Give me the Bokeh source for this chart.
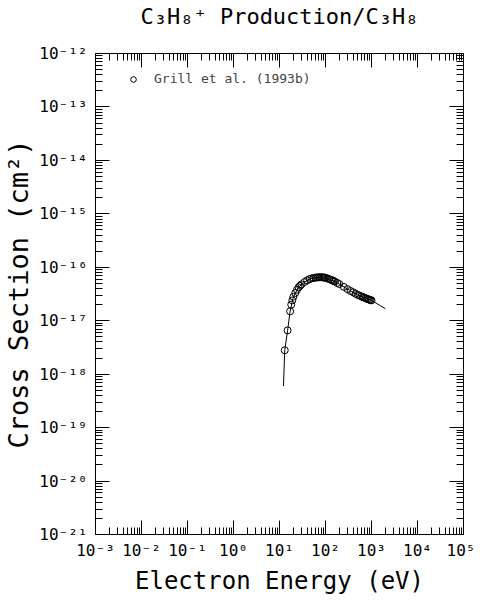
from bokeh.plotting import figure
from bokeh.models import Range1d, FixedTicker, LogAxis, Legend, LegendItem
from bokeh.embed import file_html
from bokeh.resources import INLINE

# ---- data ----
energy_ev = [13, 15, 17, 18, 19, 20, 22, 24, 26, 28, 30, 35, 40, 45, 50, 55, 60, 65, 70, 75,
             80, 85, 90, 95, 100, 110, 120, 130, 140, 150, 160, 180, 200, 250, 300, 350, 400,
             450, 500, 550, 600, 650, 700, 750, 800, 850, 900, 950, 1000]
cross_section = [2.8e-18, 6.6e-18, 1.5e-17, 2.0e-17, 2.4e-17, 2.8e-17, 3.3e-17, 3.8e-17, 4.2e-17,
                 4.5e-17, 4.8e-17, 5.3e-17, 5.7e-17, 6.0e-17, 6.2e-17, 6.3e-17, 6.4e-17, 6.45e-17,
                 6.5e-17, 6.5e-17, 6.5e-17, 6.5e-17, 6.45e-17, 6.4e-17, 6.35e-17, 6.2e-17, 6.0e-17,
                 5.85e-17, 5.7e-17, 5.55e-17, 5.4e-17, 5.1e-17, 4.85e-17, 4.3e-17, 3.9e-17, 3.6e-17,
                 3.4e-17, 3.2e-17, 3.05e-17, 2.95e-17, 2.85e-17, 2.77e-17, 2.7e-17, 2.63e-17,
                 2.57e-17, 2.52e-17, 2.47e-17, 2.43e-17, 2.4e-17]
fit_energy = [12.2, 13, 15, 17, 20, 25, 30, 40, 50, 70, 90, 120, 160, 200, 300, 400, 500, 700,
              1000, 1500, 2000]
fit_sigma = [6.0e-19, 2.8e-18, 6.6e-18, 1.5e-17, 2.8e-17, 4.0e-17, 4.8e-17, 5.7e-17, 6.2e-17,
             6.5e-17, 6.45e-17, 6.0e-17, 5.4e-17, 4.85e-17, 3.9e-17, 3.4e-17, 3.05e-17, 2.7e-17,
             2.4e-17, 1.95e-17, 1.68e-17]

x_ticks = [1e-3, 1e-2, 1e-1, 1e0, 1e1, 1e2, 1e3, 1e4, 1e5]
x_tick_labels = ["10⁻³", "10⁻²", "10⁻¹", "10⁰", "10¹", "10²", "10³", "10⁴", "10⁵"]
y_ticks = [1e-21, 1e-20, 1e-19, 1e-18, 1e-17, 1e-16, 1e-15, 1e-14, 1e-13, 1e-12]
y_tick_labels = ["10⁻²¹", "10⁻²⁰", "10⁻¹⁹", "10⁻¹⁸", "10⁻¹⁷", "10⁻¹⁶", "10⁻¹⁵", "10⁻¹⁴",
                 "10⁻¹³", "10⁻¹²"]

title_text = "C₃H₈⁺ Production/C₃H₈"
x_label = "Electron Energy (eV)"
y_label = "Cross Section (cm²)"
legend_label = "Grill et al. (1993b)"

FONT = "DejaVu Sans Mono"


def minor_of(ticks):
    out = []
    for t in ticks[:-1]:
        out += [t * k for k in range(2, 10)]
    return out


p = figure(width=475, height=598, x_axis_type="log", y_axis_type="log",
           x_range=Range1d(1e-3, 1e5), y_range=Range1d(1e-21, 1e-12),
           output_backend="svg", toolbar_location=None,
           min_border_left=94, min_border_right=12, min_border_top=53, min_border_bottom=64)
p.grid.visible = False
p.outline_line_color = "black"
p.outline_line_width = 1
p.background_fill_color = "white"
p.border_fill_color = "white"

xt = FixedTicker(ticks=x_ticks, minor_ticks=minor_of(x_ticks))
yt = FixedTicker(ticks=y_ticks, minor_ticks=minor_of(y_ticks))


def style_axis(ax, ticker, ticks, labels):
    ax.ticker = ticker
    ax.major_tick_in = 14
    ax.major_tick_out = 0
    ax.minor_tick_in = 7
    ax.minor_tick_out = 0
    ax.axis_line_color = "black"
    ax.major_tick_line_color = "black"
    ax.minor_tick_line_color = "black"
    ax.major_label_overrides = {t: l for t, l in zip(ticks, labels)}
    ax.major_label_text_font = FONT
    ax.major_label_text_font_size = "16px"
    ax.major_label_text_color = "black"
    ax.major_label_standoff = 8


style_axis(p.xaxis[0], xt, x_ticks, x_tick_labels)
style_axis(p.yaxis[0], yt, y_ticks, y_tick_labels)
p.xaxis.major_label_standoff = 6
p.xaxis.axis_label = x_label
p.yaxis.axis_label = y_label
for ax in (p.xaxis[0], p.yaxis[0]):
    ax.axis_label_text_font = FONT
    ax.axis_label_text_font_style = "normal"
    ax.axis_label_text_color = "black"
p.xaxis.axis_label_text_font_size = "24px"
p.yaxis.axis_label_text_font_size = "27px"
p.xaxis.axis_label_standoff = 4
p.yaxis.axis_label_standoff = 2

# top axis: mirrored ticks, carries the chart title as its label
ax_top = LogAxis()
style_axis(ax_top, xt, x_ticks, [""] * len(x_ticks))
ax_top.major_label_standoff = 0
ax_top.axis_label = title_text
ax_top.axis_label_text_font = FONT
ax_top.axis_label_text_font_size = "22px"
ax_top.axis_label_text_font_style = "normal"
ax_top.axis_label_text_color = "black"
ax_top.axis_label_standoff = 25
p.add_layout(ax_top, "above")

ax_right = LogAxis()
style_axis(ax_right, yt, y_ticks, [""] * len(y_ticks))
ax_right.major_label_standoff = 0
p.add_layout(ax_right, "right")

p.line(fit_energy, fit_sigma, line_color="black", line_width=1)
pts = p.scatter(energy_ev, cross_section, marker="circle", size=7,
                fill_color=None, line_color="black", line_width=1)

legend = Legend(items=[LegendItem(label=legend_label, renderers=[pts])],
                location="top_left", margin=0, padding=18,
                glyph_width=40, glyph_height=14, label_height=14, label_standoff=1,
                label_text_font=FONT, label_text_font_size="13px",
                background_fill_alpha=0, border_line_alpha=0)
p.add_layout(legend)

open("out.html", "w").write(file_html(p, INLINE))
